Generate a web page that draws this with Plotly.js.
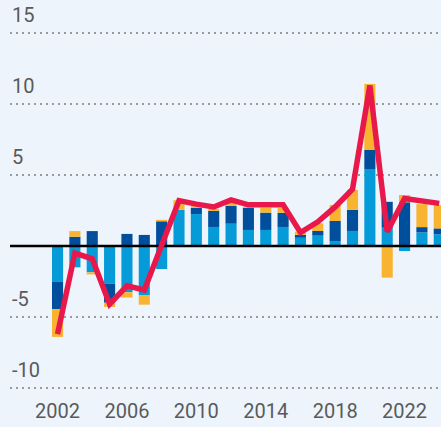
<!DOCTYPE html>
<html>
<head>
<meta charset="utf-8">
<script src="https://cdn.plot.ly/plotly-3.0.1.min.js"></script>
<style>html,body{margin:0;padding:0;background:#edf4fb;}#chart{width:441px;height:427px;}</style>
</head>
<body>
<div id="chart"></div>
<script>
const years = [2002,2003,2004,2005,2006,2007,2008,2009,2010,2011,2012,2013,2014,2015,2016,2017,2018,2019,2020,2021,2022,2023,2024];
const lightBlue = [-2.5,-1.5,-1.85,-2.65,-3.25,-3.45,-1.62,2.55,2.25,1.34,1.57,1.13,1.13,1.34,0.58,0.73,0.35,1.06,5.42,1.29,-0.35,0.96,0.82];
const darkBlue  = [-1.95,0.65,1.05,-1.34,0.85,0.78,1.74,0,0.43,1.13,1.25,1.55,1.22,1.0,0.2,0.33,1.41,1.48,1.34,1.82,3.08,0.37,0.42];
const orange    = [-1.95,0.4,-0.15,-0.3,-0.38,-0.68,0.1,0.68,0.16,0.14,0.28,0.1,0.35,0.35,0.23,0.54,1.13,1.41,4.65,-2.23,0.51,1.62,1.64];
const total     = [-6.2,-0.5,-0.9,-4.1,-2.8,-3.1,0.05,3.2,2.95,2.75,3.25,2.9,2.9,2.9,0.95,1.7,2.75,4.0,11.3,1.0,3.35,3.15,3.0];
const xTicks = [2002,2006,2010,2014,2018,2022];
const yGrid = [-10,-5,5,10,15];
const xRange = [1999.26, 2024.1];
const yRange = [-10.49, 17.32];

const font = 'Roboto, "Liberation Sans", sans-serif';
const barW = 0.64;
const traces = [
  {type:'bar', x:years, y:lightBlue, width:barW, marker:{color:'#049bd8'}, hoverinfo:'skip'},
  {type:'bar', x:years, y:darkBlue, width:barW, marker:{color:'#004f9c'}, hoverinfo:'skip'},
  {type:'bar', x:years, y:orange, width:barW, marker:{color:'#f8b431'}, hoverinfo:'skip'},
  {type:'scatter', mode:'lines', x:xRange, y:[0,0], line:{color:'#000000', width:2.5}, hoverinfo:'skip'},
  {type:'scatter', mode:'lines', x:years, y:total, line:{color:'#e9184b', width:5.5}, hoverinfo:'skip'}
];

const annotations = yGrid.map(v => ({
  xref:'paper', yref:'y', x:0, y:v, xanchor:'left', yanchor:'bottom', yshift:4,
  text:String(v), showarrow:false, font:{family:font, size:20, color:'#5a5a5a'}
}));

const layout = {
  width:441, height:427,
  paper_bgcolor:'#edf4fb', plot_bgcolor:'#edf4fb',
  margin:{l:10, r:0, t:0, b:32},
  showlegend:false,
  barmode:'relative',
  xaxis:{range:xRange, tickvals:xTicks, ticktext:xTicks.map(String), showgrid:false, zeroline:false, showline:false, ticks:'',
         ticklabelstandoff:2, tickfont:{family:font, size:20, color:'#5a5a5a'}},
  yaxis:{range:yRange, tickvals:yGrid, showticklabels:false, showgrid:true, gridcolor:'#9a9a9a', gridwidth:2, griddash:'2px,4px', zeroline:false, showline:false},
  annotations:annotations
};

Plotly.newPlot('chart', traces, layout, {displayModeBar:false, staticPlot:true});
</script>
</body>
</html>
